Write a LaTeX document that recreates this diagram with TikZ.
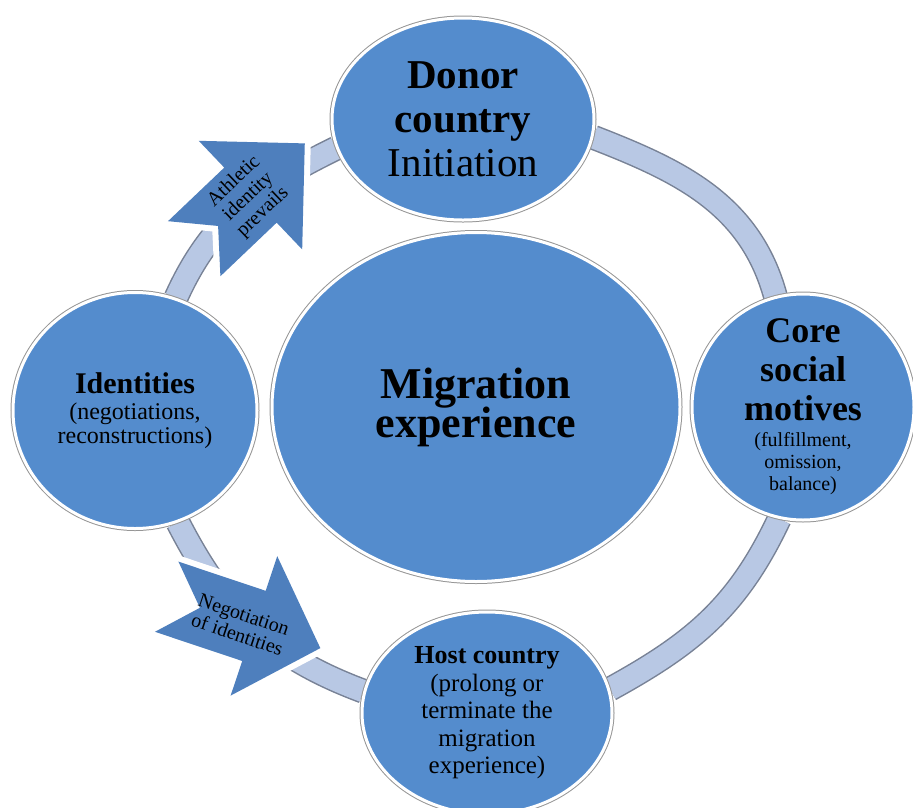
\documentclass[tikz,border=0pt]{standalone}
\usepackage{fontspec}
\setmainfont{Liberation Serif}
\usetikzlibrary{shapes.geometric}
\pgfdeclarelayer{bg}
\pgfsetlayers{bg,main}
\lineskiplimit=-100pt
\definecolor{circfill}{RGB}{84,140,205}
\definecolor{circedge}{RGB}{150,150,150}
\definecolor{arrowfill}{RGB}{78,127,189}
\definecolor{ringfill}{RGB}{184,200,228}
\definecolor{ringedge}{RGB}{120,130,150}
\begin{document}
\begin{tikzpicture}[x=1pt,y=-1pt,
  circ/.style={ellipse, fill=circfill, draw=white, line width=3pt,
    preaction={draw=circedge, line width=5pt}, inner sep=-40pt,
    align=center, text=black},
  blockarrow/.style={fill=arrowfill, preaction={draw=white, line width=12pt, line join=round}},
  arrowtext/.style={align=center, font=\fontsize{20}{21}\selectfont, inner sep=0pt, text=black},
  ring/.style={draw=ringfill, line width=22pt, preaction={draw=ringedge, line width=25pt}}]
\useasboundingbox (0,0) rectangle (913,807);

% nodes
\node[circ, minimum width=262pt, minimum height=202pt, font=\fontsize{41}{44}\selectfont]
  (donor) at (463,119) {\textbf{Donor}\\\textbf{country}\\Initiation};
\node[circ, minimum width=408pt, minimum height=349pt, font=\fontsize{44}{39}\selectfont\bfseries]
  (mig) at (476,407) {Migration\\experience};
\node[circ, minimum width=222pt, minimum height=226pt, font=\fontsize{36}{39}\selectfont\bfseries]
  (core) at (803,407) {Core\\social\\motives\\[-13pt]{\mdseries\fontsize{20}{22}\selectfont (fulfillment,}\\[-17pt]{\mdseries\fontsize{20}{22}\selectfont omission,}\\[-17pt]{\mdseries\fontsize{20}{22}\selectfont balance)}};
\node[circ, minimum width=244pt, minimum height=236pt, font=\fontsize{24}{23.5}\selectfont]
  (ident) at (135,410.5) {{\bfseries\fontsize{30}{30}\selectfont Identities}\\[3pt](negotiations,\\reconstructions)};
\node[circ, minimum width=250pt, minimum height=202pt, font=\fontsize{25}{27.5}\selectfont]
  (host) at (487,713) {{\bfseries\fontsize{26}{27.5}\selectfont Host country}\\(prolong or\\terminate the\\migration\\experience)};

\begin{pgfonlayer}{bg}
% ring connectors
\draw[ring] (donor.-8) .. controls (680,171) and (750,204) .. (core.104);
\draw[ring] (core.-102) .. controls (738,606) and (694,643) .. (host.11);
\draw[ring] (host.170) .. controls (269,656) and (223,610) .. (ident.-69);
\draw[ring] (ident.70) .. controls (211.5,219) and (258.6,186.3) .. (donor.-167);

% block arrows
\begin{scope}[shift={(194.2,248.7)}, rotate=43.6]
  \path[blockarrow] (0,-38) -- (33,0) -- (0,38) -- (77.7,38) -- (77.7,75) -- (152.7,0)
    -- (77.7,-75) -- (77.7,-38) -- cycle;
  \node[arrowtext, rotate=43.6] (athl) at (75,0) {Athletic\\identity\\prevails};
\end{scope}
\begin{scope}[shift={(166.7,596.7)}, rotate=-18.5]
  \path[blockarrow] (0,-37) -- (35,0) -- (0,37) -- (92,37) -- (92,73.5) -- (162,0)
    -- (92,-73.5) -- (92,-37) -- cycle;
  \node[arrowtext, rotate=-18.5] (nego) at (79,3) {Negotiation\\of identities};
\end{scope}
\end{pgfonlayer}
\end{tikzpicture}
\end{document}
